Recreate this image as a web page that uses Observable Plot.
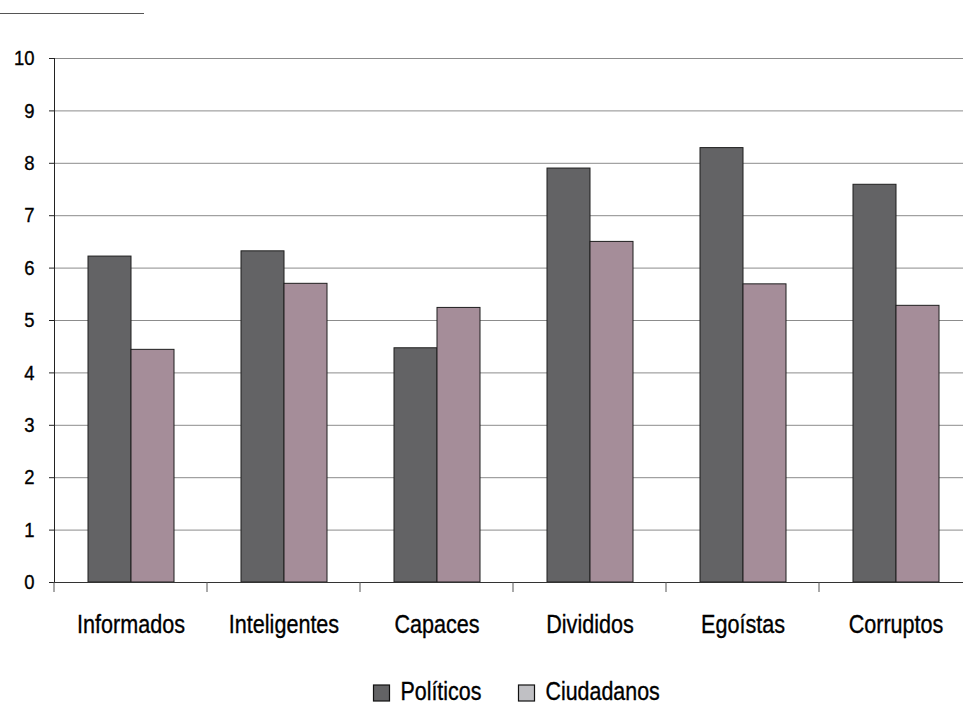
<!DOCTYPE html>
<html>
<head>
<meta charset="utf-8">
<script src="https://cdn.jsdelivr.net/npm/d3@7"></script>
<script src="https://cdn.jsdelivr.net/npm/@observablehq/plot@0.6"></script>
<style>
  body { margin: 0; background: #fff; }
  #wrap { position: relative; width: 963px; height: 706px; overflow: hidden; }
  #rule { position: absolute; left: 0; top: 13px; width: 144px; border-top: 1px solid #555; }
  #chart { position: absolute; left: 0; top: 0; }
  #legend { position: absolute; left: 0; top: 640px; }
</style>
</head>
<body>
<div id="wrap">
  <div id="rule"></div>
  <div id="chart"></div>
  <svg id="legend" width="963" height="66"></svg>
</div>
<script>
// Categories and mean scores for each group
const categories = ["Informados", "Inteligentes", "Capaces", "Divididos", "Egoístas", "Corruptos"];
const politicos  = [6.22, 6.32, 4.47, 7.90, 8.29, 7.59];
const ciudadanos = [4.44, 5.70, 5.24, 6.50, 5.69, 5.28];
const seriesNames = ["Políticos", "Ciudadanos"];
const barColors = ["#636365", "#a58d99"];
const legendColors = ["#636365", "#c0c0c4"];
const yTicks = [0, 1, 2, 3, 4, 5, 6, 7, 8, 9, 10];

const rows = categories.flatMap((c, i) => [
  {category: c, series: seriesNames[0], value: politicos[i]},
  {category: c, series: seriesNames[1], value: ciudadanos[i]}
]);

const fontFamily = '"Liberation Sans", Arial, sans-serif';

const plot = Plot.plot({
  width: 963,
  height: 650,
  marginLeft: 53,
  marginRight: -9,
  marginTop: 58,
  marginBottom: 68,
  style: {fontFamily, color: "#000", background: "transparent", overflow: "visible"},
  fx: {domain: categories, padding: 0, label: null},
  x: {domain: seriesNames, paddingInner: 0, paddingOuter: 0.74, axis: null},
  y: {domain: [0, 10], label: null},
  color: {domain: seriesNames, range: barColors},
  marks: [
    Plot.gridY(yTicks, {stroke: "#8c8c8c", strokeOpacity: 1}),
    Plot.axisY(yTicks, {tickSize: 5, tickPadding: 15, fontSize: 21, label: null, stroke: "#222", tickFormat: d3.format("d")}),
    Plot.axisFx({anchor: "bottom", tickSize: 0, tickPadding: 32, fontSize: 26, label: null}),
    Plot.barY(rows, {fx: "category", x: "series", y: "value", fill: "series", stroke: "#1f1f1f", strokeWidth: 1}),
    Plot.ruleY([0], {stroke: "#333"}),
    Plot.frame({anchor: "left", facetAnchor: "left", stroke: "#222"})
  ]
});

// Narrow (and slightly thicken) the axis lettering around each label's anchor
function condense(selection, s) {
  selection
    .attr("stroke", "#000")
    .attr("stroke-width", 0.35)
    .each(function () {
      const x = +(this.getAttribute("x") || 0);
      const t = this.getAttribute("transform") || "";
      this.setAttribute("transform", `${t} translate(${x},0) scale(${s},1) translate(${-x},0)`);
    });
}
condense(d3.select(plot).selectAll('g[aria-label="y-axis tick label"] text'), 0.88);
condense(d3.select(plot).selectAll('g[aria-label="fx-axis tick label"] text'), 0.83);

// Short ticks below the baseline at each category boundary
const fx = plot.scale("fx");
const base = plot.scale("y").apply(0);
d3.select(plot).append("g")
  .attr("stroke", "#555")
  .selectAll("line")
  .data(categories)
  .join("line")
  .attr("x1", d => fx.apply(d))
  .attr("x2", d => fx.apply(d))
  .attr("y1", base)
  .attr("y2", base + 10);

document.getElementById("chart").appendChild(plot);

// Legend: swatch + label per series
const legend = d3.select("#legend");
const legendX = [373.5, 518.5];
seriesNames.forEach((name, i) => {
  const g = legend.append("g").attr("transform", `translate(${legendX[i]},0)`);
  g.append("rect")
    .attr("x", 0).attr("y", 45).attr("width", 16).attr("height", 16)
    .attr("fill", legendColors[i]).attr("stroke", "#111").attr("stroke-width", 1.2);
  g.append("text")
    .attr("x", 27).attr("y", 60.5)
    .attr("font-family", fontFamily).attr("font-size", 25.5)
    .attr("stroke", "#000").attr("stroke-width", 0.35)
    .attr("transform", "translate(27,0) scale(0.84,1) translate(-27,0)")
    .text(name);
});
</script>
</body>
</html>
